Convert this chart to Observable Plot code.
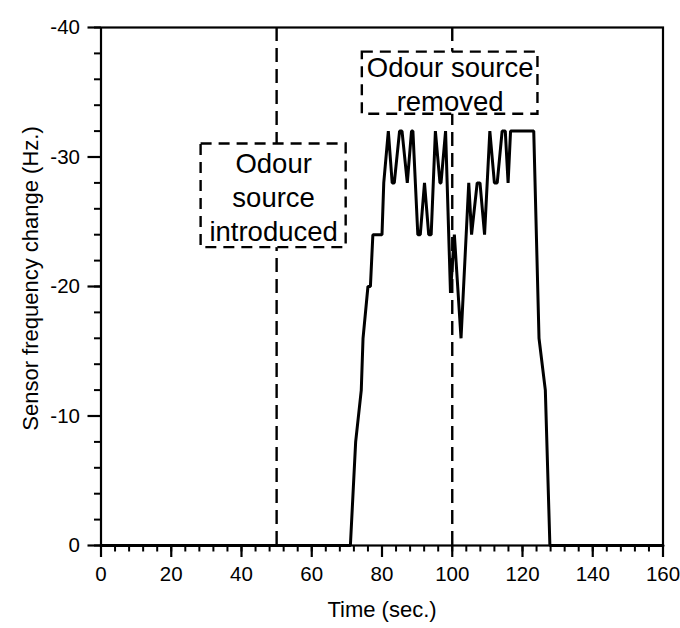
<!DOCTYPE html>
<html><head><meta charset="utf-8">
<script src="https://cdn.jsdelivr.net/npm/d3@7"></script>
<script src="https://cdn.jsdelivr.net/npm/@observablehq/plot@0.6"></script>
<style>body{margin:0;background:#fff}</style>
</head><body><div id="chart"></div>
<script>
// Sensor response (time in seconds, frequency change in Hz)
const times = [0, 71, 72.5, 74.1, 74.6, 76.0, 76.7, 77.4, 80.0, 80.5, 81.8, 82.9, 83.5, 85.0, 85.7, 87.2, 88.4, 88.8, 90.2, 90.9, 92.1, 93.3, 94.0, 95.2, 96.5, 96.8, 98.1, 99.5, 100.6, 102.5, 104.7, 105.5, 107.1, 107.9, 109.2, 110.7, 112.0, 112.8, 114.2, 115.1, 115.9, 116.6, 123.2, 124.7, 126.5, 127.8, 160];
const freqChange = [0, 0, -8, -12, -16, -20, -20, -24, -24, -28, -32, -28, -28, -32, -32, -28, -32, -32, -24, -24, -28, -24, -24, -32, -28, -28, -32, -19.5, -24, -16, -28, -24, -28, -28, -24, -32, -28, -28, -32, -32, -28, -32, -32, -16, -12, 0, 0];

const xMajorTicks = [0, 20, 40, 60, 80, 100, 120, 140, 160];
const xMinorTicks = [0, 4, 8, 12, 16, 20, 24, 28, 32, 36, 40, 44, 48, 52, 56, 60, 64, 68, 72, 76, 80, 84, 88, 92, 96, 100, 104, 108, 112, 116, 120, 124, 128, 132, 136, 140, 144, 148, 152, 156, 160];
const yMajorTicks = [0, -10, -20, -30, -40];
const yMinorTicks = [0, -2, -4, -6, -8, -10, -12, -14, -16, -18, -20, -22, -24, -26, -28, -30, -32, -34, -36, -38, -40];

const xTitle = "Time (sec.)";
const yTitle = "Sensor frequency change (Hz.)";

// Event markers and annotation boxes
const eventTimes = [50, 100];
const boxLabels = ["Odour\nsource\nintroduced", "Odour source\nremoved"];
const boxX1 = [28.5, 74.4];
const boxX2 = [69.8, 124.4];
const boxY1 = [-23, -33.3];
const boxY2 = [-31, -38.1];

const series = times.map((t, i) => ({t, v: freqChange[i]}));
const boxes = boxLabels.map((label, i) => ({label, x1: boxX1[i], x2: boxX2[i], y1: boxY1[i], y2: boxY2[i]}));

const font = "'Liberation Sans', Arial, Helvetica, sans-serif";

const chart = Plot.plot({
  width: 680,
  height: 628,
  marginLeft: 100.5,
  marginRight: 17.5,
  marginTop: 27,
  marginBottom: 83,
  style: {fontFamily: font, fontSize: "20px", background: "#fff", color: "#000", overflow: "visible"},
  x: {domain: [0, 160], axis: null},
  y: {domain: [0, -40], axis: null},
  marks: [
    Plot.ruleX(eventTimes, {x: d => d, y1: 0, y2: -40, stroke: "#000", strokeWidth: 2.4, strokeDasharray: "14,7"}),
    Plot.rect(boxes, {x1: "x1", x2: "x2", y1: "y1", y2: "y2", fill: "#fff", stroke: "#000", strokeWidth: 2.4, strokeDasharray: "11,7"}),
    Plot.text(boxes, {x: d => (d.x1 + d.x2) / 2, y: d => (d.y1 + d.y2) / 2, text: "label", fontSize: 27.5, lineHeight: 1.24, fill: "#000"}),
    Plot.line(series, {x: "t", y: "v", stroke: "#000", strokeWidth: 3, strokeLinejoin: "miter"}),
    Plot.frame({stroke: "#000", strokeWidth: 2.2}),
    Plot.axisX({ticks: xMinorTicks, tickSize: 6.5, strokeWidth: 2, fill: "none", label: null}),
    Plot.axisX({ticks: xMajorTicks, tickSize: 12, tickPadding: 9, strokeWidth: 2.2, fontSize: 20.5, tickFormat: d => String(d), label: null}),
    Plot.axisY({ticks: yMinorTicks, tickSize: 6.5, strokeWidth: 2, fill: "none", label: null}),
    Plot.axisY({ticks: yMajorTicks, tickSize: 13, tickPadding: 8, strokeWidth: 2.2, fontSize: 20.5, tickFormat: d => String(d), label: null}),
    Plot.text([xTitle], {frameAnchor: "bottom", lineAnchor: "middle", dy: 64, text: d => d, fontSize: 22, fill: "#000"}),
    Plot.text([yTitle], {frameAnchor: "left", textAnchor: "middle", dx: -70, dy: -8, rotate: -90, text: d => d, fontSize: 22, fill: "#000"})
  ]
});
document.getElementById("chart").append(chart);
</script>
</body></html>
